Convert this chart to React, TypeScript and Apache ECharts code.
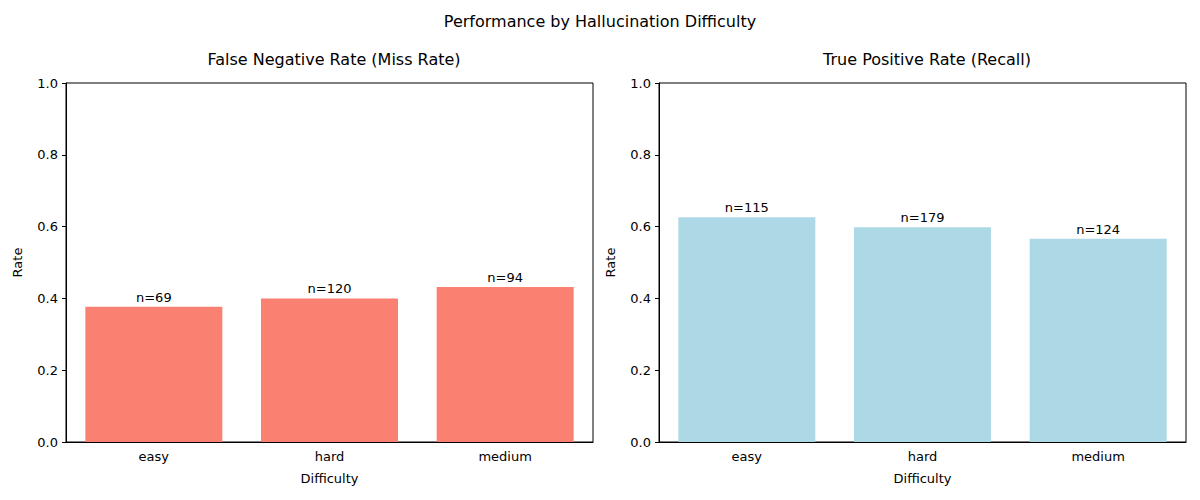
import React from "react";
import * as echarts from "echarts";

const categories = ["easy", "hard", "medium"];
const fnrValues = [0.377, 0.4, 0.432];
const fnrCounts = [69, 120, 94];
const tprValues = [0.626, 0.598, 0.566];
const tprCounts = [115, 179, 124];
const yTicks = [0, 0.2, 0.4, 0.6, 0.8, 1.0];

const font = "DejaVu Sans";

export default function App() {
  const ref = React.useRef<HTMLDivElement>(null);

  React.useEffect(() => {
    if (!ref.current) return;
    const chart = echarts.init(ref.current, undefined, { renderer: "svg" });

    const xAxis = (i: number) => ({
      type: "category", gridIndex: i, data: categories,
      name: "Difficulty", nameLocation: "middle", nameGap: 30,
      nameTextStyle: { color: "#000", fontSize: 13, fontFamily: font },
      axisLine: { lineStyle: { color: "#000" } },
      axisTick: { alignWithLabel: true, length: 4, lineStyle: { color: "#000" } },
      axisLabel: { color: "#000", fontSize: 13, fontFamily: font, margin: 8 },
    });
    const yAxis = (i: number) => ({
      type: "value", gridIndex: i, min: 0, max: 1, interval: 0.2,
      name: "Rate", nameLocation: "middle", nameGap: 42,
      nameTextStyle: { color: "#000", fontSize: 13, fontFamily: font },
      axisLine: { show: true, lineStyle: { color: "#000" } },
      axisTick: { show: true, length: 4, lineStyle: { color: "#000" } },
      axisLabel: { color: "#000", fontSize: 13, fontFamily: font, formatter: (v: number) => v.toFixed(1) },
      splitLine: { show: false },
    });
    const series = (i: number, vals: number[], counts: number[], color: string) => ({
      type: "bar", xAxisIndex: i, yAxisIndex: i, data: vals, barWidth: 137,
      itemStyle: { color },
      label: {
        show: true, position: "top", distance: 3, color: "#000", fontSize: 13, fontFamily: font,
        formatter: (p: any) => "n=" + counts[p.dataIndex],
      },
    });
    void yTicks;

    chart.setOption({
      animation: false,
      title: [
        { text: "Performance by Hallucination Difficulty", left: "center", top: 8, textStyle: { fontSize: 16, fontWeight: "normal", color: "#000", fontFamily: font } },
        { text: "False Negative Rate (Miss Rate)", left: 329, textAlign: "center", top: 46, textStyle: { fontSize: 16, fontWeight: "normal", color: "#000", fontFamily: font } },
        { text: "True Positive Rate (Recall)", left: 922, textAlign: "center", top: 46, textStyle: { fontSize: 16, fontWeight: "normal", color: "#000", fontFamily: font } },
      ],
      grid: [
        { left: 66, right: 607, top: 83, bottom: 58, show: true, borderColor: "#000", borderWidth: 1, backgroundColor: "transparent" },
        { left: 659, right: 14, top: 83, bottom: 58, show: true, borderColor: "#000", borderWidth: 1, backgroundColor: "transparent" },
      ],
      xAxis: [xAxis(0), xAxis(1)],
      yAxis: [yAxis(0), yAxis(1)],
      series: [
        series(0, fnrValues, fnrCounts, "#fa8072"),
        series(1, tprValues, tprCounts, "#add8e6"),
      ],
    });

    return () => chart.dispose();
  }, []);

  return <div ref={ref} style={{ width: 1200, height: 500, margin: -8 }} />;
}
